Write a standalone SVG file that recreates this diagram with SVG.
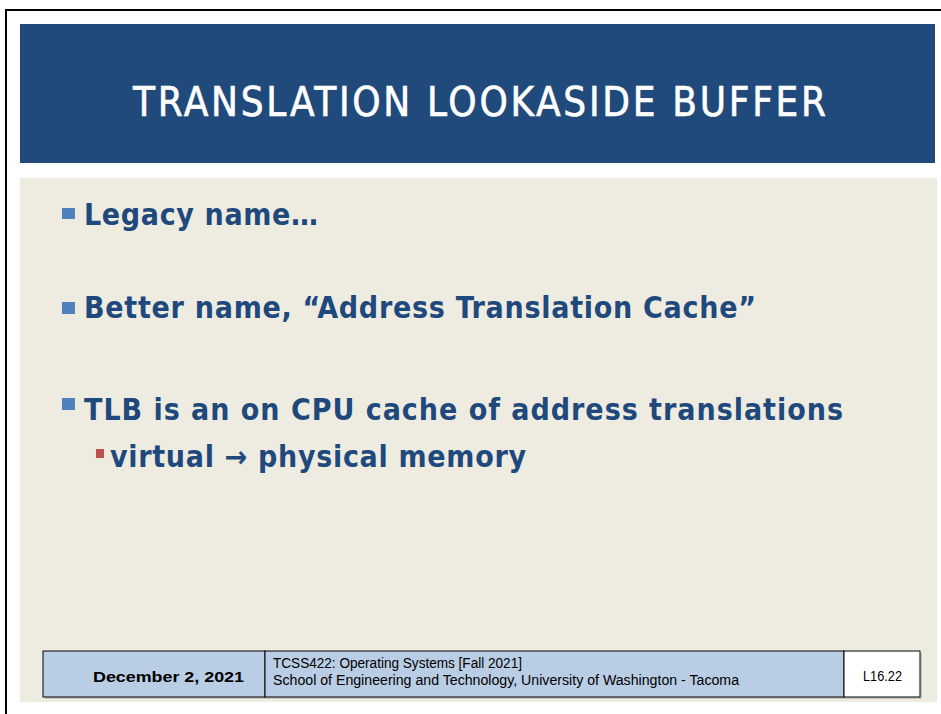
<svg xmlns="http://www.w3.org/2000/svg" width="941" height="714" viewBox="0 0 941 714">
<style>
.body{font-family:"DejaVu Sans Condensed","DejaVu Sans",sans-serif;font-size:30px;fill:#1f497d;font-weight:bold}
.foot{font-family:"Liberation Sans",Arial,sans-serif;font-size:14px;fill:#000}
.cell{stroke:#000;stroke-width:1}
</style>
<rect x="0" y="0" width="941" height="714" fill="#fff"/>
<rect x="6" y="10" width="940" height="710" fill="none" stroke="#000" stroke-width="2"/>
<g id="header">
<rect x="20" y="24" width="915" height="139" fill="#204a7b"/>
<text x="133" y="116" textLength="693" lengthAdjust="spacing" font-family="DejaVu Sans Condensed, DejaVu Sans, sans-serif" font-size="40" fill="#fff" stroke="#fff" stroke-width="0.6">TRANSLATION LOOKASIDE BUFFER</text>
</g>
<g id="content">
<rect x="20" y="178" width="917" height="524" fill="#eeece1"/>
<rect x="62" y="208" width="13" height="11" fill="#4f81bd"/>
<text class="body" x="84" y="225" textLength="234" lengthAdjust="spacing">Legacy name…</text>
<rect x="62" y="302" width="13" height="12" fill="#4f81bd"/>
<text class="body" x="84" y="318" textLength="672" lengthAdjust="spacing">Better name, “Address Translation Cache”</text>
<rect x="62" y="398" width="13" height="12" fill="#4f81bd"/>
<text class="body" x="84" y="420" textLength="759" lengthAdjust="spacing">TLB is an on CPU cache of address translations</text>
<rect x="96" y="449" width="8" height="9" fill="#c0504d"/>
<text class="body" x="110" y="467" textLength="416" lengthAdjust="spacing">virtual → physical memory</text>
</g>
<g id="footer">
<rect x="45" y="653" width="877" height="46" fill="#a0a0a0" opacity="0.5"/>
<rect class="cell" x="43" y="651" width="222" height="46" fill="#b9cde5"/>
<rect class="cell" x="265" y="651" width="579" height="46" fill="#b9cde5"/>
<rect class="cell" x="844" y="651" width="76" height="46" fill="#fff"/>
<text class="foot" x="93" y="682" textLength="151" lengthAdjust="spacingAndGlyphs" font-weight="bold" font-size="15">December 2, 2021</text>
<text class="foot" x="273" y="668" textLength="249" lengthAdjust="spacingAndGlyphs">TCSS422: Operating Systems [Fall 2021]</text>
<text class="foot" x="273" y="685" textLength="466" lengthAdjust="spacingAndGlyphs">School of Engineering and Technology, University of Washington - Tacoma</text>
<text class="foot" x="863" y="681" textLength="39" lengthAdjust="spacingAndGlyphs">L16.22</text>
</g>
</svg>
